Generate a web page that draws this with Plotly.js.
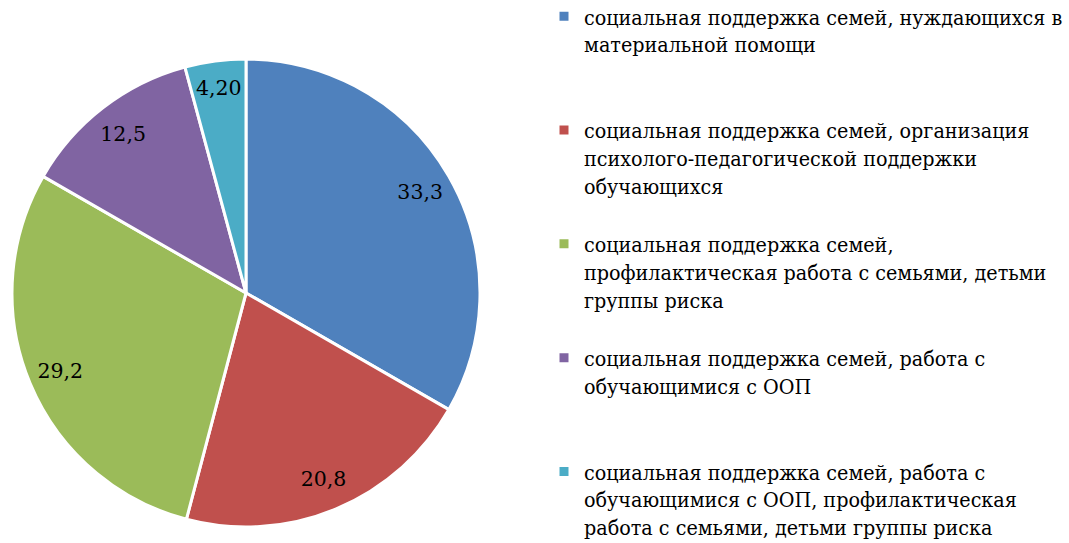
<!DOCTYPE html>
<html>
<head>
<meta charset="utf-8">
<script src="https://cdn.plot.ly/plotly-3.0.1.min.js"></script>
<style>html,body{margin:0;padding:0;background:#fff;}#chart{width:1069px;height:543px;}</style>
</head>
<body>
<div id="chart"></div>
<script>
var categories = [
  "социальная поддержка семей, нуждающихся в<br>материальной помощи",
  "социальная поддержка семей, организация<br>психолого-педагогической поддержки<br>обучающихся",
  "социальная поддержка семей,<br>профилактическая работа с семьями, детьми<br>группы риска",
  "социальная поддержка семей, работа с<br>обучающимися с ООП",
  "социальная поддержка семей, работа с<br>обучающимися с ООП, профилактическая<br>работа с семьями, детьми группы риска"
];
var values = [33.3, 20.8, 29.2, 12.5, 4.20];
var valueFormats = ["%{value:.1f}", "%{value:.1f}", "%{value:.1f}", "%{value:.1f}", "%{value:.2f}"];
var colors = ["#4F81BD", "#C0504D", "#9BBB59", "#8064A2", "#4BACC6"];

var LEGEND_FONT = "DejaVu Serif Condensed";
var LABEL_FONT = "DejaVu Serif";

// pad legend entries to equal line counts
var legendLabels = categories.map(function (c, i) {
  var n = c.split("<br>").length;
  var s = c;
  if (i < categories.length - 1) { for (var k = n; k < 4; k++) s += "<br> "; }
  return s;
});

var W = 1069, H = 543;
var cx = 246, cy = 293, r = 234;
var domain = {x: [(cx - r) / W, (cx + r) / W], y: [(H - cy - r) / H, (H - cy + r) / H]};

var pie = {
  type: "pie",
  labels: legendLabels,
  values: values,
  sort: false,
  direction: "clockwise",
  rotation: 0,
  textinfo: "none",
  marker: {colors: colors, line: {color: "#fff", width: 3}},
  hoverinfo: "none",
  domain: domain
};

// transparent ring used only to place the value labels near the outer edge
var labelsRing = {
  type: "pie",
  labels: legendLabels,
  values: values,
  sort: false,
  direction: "clockwise",
  rotation: 0,
  hole: 0.72,
  showlegend: false,
  texttemplate: valueFormats,
  textinfo: "text",
  textposition: "inside",
  insidetextorientation: "horizontal",
  textfont: {family: LABEL_FONT, size: 20.5, color: "#000"},
  marker: {colors: colors.map(function () { return "rgba(0,0,0,0)"; }), line: {width: 0}},
  hoverinfo: "none",
  domain: domain
};

var layout = {
  width: W, height: H,
  margin: {l: 0, r: 0, t: 0, b: 0, autoexpand: false},
  paper_bgcolor: "#fff",
  separators: ", ",
  showlegend: true,
  legend: {
    x: 544 / W, xanchor: "left", y: 1 + 4 / H, yanchor: "top",
    valign: "top",
    maxheight: 700,
    font: {family: LEGEND_FONT, size: 21.3, color: "#000"},
    bgcolor: "rgba(0,0,0,0)"
  }
};

Plotly.newPlot("chart", [pie, labelsRing], layout, {staticPlot: true});
</script>
</body>
</html>
